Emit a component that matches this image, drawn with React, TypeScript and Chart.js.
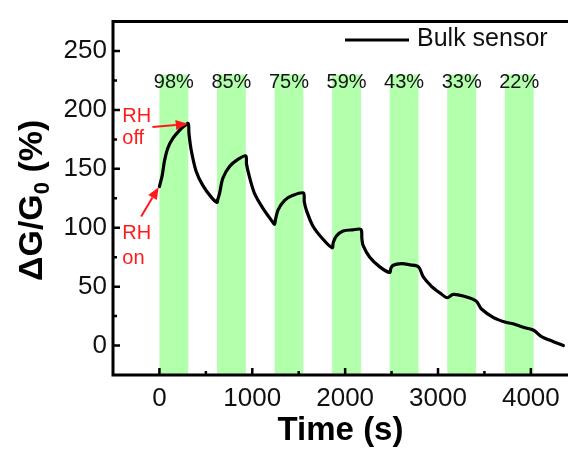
import React, { useEffect, useRef } from "react";
import { Chart, registerables } from "chart.js";

Chart.register(...registerables);

// ---- data ----
const timeS = [
  0, 29, 54, 90, 144, 216, 270, 310,
  318, 342, 395, 467, 558, 620,
  628, 647, 683, 755, 845, 930,
  938, 971, 1025, 1115, 1223, 1240,
  1250, 1277, 1348, 1438, 1550,
  1560, 1582, 1654, 1762, 1860,
  1872, 1906, 1978, 2080, 2170,
  2180, 2193, 2265, 2373, 2480,
  2492, 2517, 2606, 2700, 2790,
  2840, 2930, 3020, 3100,
  3164, 3272, 3410,
  3468, 3594, 3720,
  3808, 3920, 4030,
  4115, 4243, 4350,
];
const deltaG = [
  135, 144, 156.5, 167.5, 175.8, 182.7, 186.5, 188.5,
  180, 166, 148, 136, 126, 121.5,
  124, 129, 142, 152, 158, 161,
  154, 142.7, 129, 116.5, 104.5, 103,
  107, 115, 123.3, 127.5, 129.5,
  122, 115, 101.3, 90.2, 83,
  87.5, 93, 97.2, 98.2, 98.5,
  91, 85, 75, 66.8, 62,
  65.5, 68.2, 69.5, 68.5, 66.8,
  58.5, 50.2, 44.7, 40.6,
  43.4, 42, 37.8,
  31, 24, 20,
  18.5, 15.5, 13,
  7.5, 3.3, 0,
];
const seriesName = "Bulk sensor";

const xTickValues = [0, 1000, 2000, 3000, 4000];
const yTickValues = [0, 50, 100, 150, 200, 250];
const xMinorTicks = [500, 1500, 2500, 3500];
const yMinorTicks = [25, 75, 125, 175, 225];

const humidityStarts = [0, 620, 1240, 1860, 2480, 3100, 3720];
const humidityEnds = [310, 930, 1550, 2170, 2790, 3410, 4030];
const humidityLabels = ["98%", "85%", "75%", "59%", "43%", "33%", "22%"];
const bandTop = 230;
const humidityLabelY = 223;

// annotation anchors in data units: [xStart, yStart, xTip, yTip]
const rhOffArrow = [-75, 185.5, 305, 188.2];
const rhOnArrow = [-197, 109.6, -8, 134.4];
const rhOffText = ["RH", "off"];
const rhOnText = ["RH", "on"];
const rhOffTextPos = [-400, 194.6, 176];
const rhOnTextPos = [-400, 95, 73.7];

const FONT = "Arial, 'Liberation Sans', Helvetica, sans-serif";

function drawArrow(ctx: CanvasRenderingContext2D, x0: number, y0: number, x1: number, y1: number) {
  const ang = Math.atan2(y1 - y0, x1 - x0);
  const hl = 12;
  const hw = 5;
  const bx = x1 - hl * Math.cos(ang);
  const by = y1 - hl * Math.sin(ang);
  ctx.beginPath();
  ctx.moveTo(x0, y0);
  ctx.lineTo(bx, by);
  ctx.stroke();
  ctx.beginPath();
  ctx.moveTo(x1, y1);
  ctx.lineTo(bx + hw * Math.sin(ang), by - hw * Math.cos(ang));
  ctx.lineTo(bx - hw * Math.sin(ang), by + hw * Math.cos(ang));
  ctx.closePath();
  ctx.fill();
}

const decorPlugin = {
  id: "decor",
  beforeDatasetsDraw(chart: any) {
    const { ctx, chartArea: a, scales } = chart;
    const x = scales.x;
    const y = scales.y;
    ctx.save();
    ctx.beginPath();
    ctx.rect(a.left, a.top, a.right - a.left, a.bottom - a.top);
    ctx.clip();
    ctx.fillStyle = "rgb(178,255,172)";
    const yT = y.getPixelForValue(bandTop);
    for (let i = 0; i < humidityStarts.length; i++) {
      const x0 = x.getPixelForValue(humidityStarts[i]);
      const x1 = x.getPixelForValue(humidityEnds[i]);
      ctx.fillRect(x0, yT, x1 - x0, a.bottom - yT);
    }
    ctx.fillStyle = "#141414";
    ctx.font = `20px ${FONT}`;
    ctx.textAlign = "center";
    ctx.textBaseline = "middle";
    for (let i = 0; i < humidityStarts.length; i++) {
      const xc = x.getPixelForValue((humidityStarts[i] + humidityEnds[i]) / 2);
      ctx.fillText(humidityLabels[i], xc, y.getPixelForValue(humidityLabelY));
    }
    ctx.restore();
  },
  afterDatasetsDraw(chart: any) {
    const { ctx, chartArea: a, scales } = chart;
    const x = scales.x;
    const y = scales.y;
    ctx.save();
    // frame (left, top, bottom)
    ctx.strokeStyle = "#000";
    ctx.lineWidth = 3;
    ctx.beginPath();
    ctx.moveTo(a.right + 2, a.top);
    ctx.lineTo(a.left, a.top);
    ctx.lineTo(a.left, a.bottom);
    ctx.lineTo(a.right + 2, a.bottom);
    ctx.stroke();
    // inward ticks
    ctx.lineWidth = 2.5;
    ctx.beginPath();
    xTickValues.forEach((v) => {
      const px = x.getPixelForValue(v);
      ctx.moveTo(px, a.bottom);
      ctx.lineTo(px, a.bottom - 7);
    });
    xMinorTicks.forEach((v) => {
      const px = x.getPixelForValue(v);
      ctx.moveTo(px, a.bottom);
      ctx.lineTo(px, a.bottom - 4);
    });
    yTickValues.forEach((v) => {
      const py = y.getPixelForValue(v);
      ctx.moveTo(a.left, py);
      ctx.lineTo(a.left + 7, py);
    });
    yMinorTicks.forEach((v) => {
      const py = y.getPixelForValue(v);
      ctx.moveTo(a.left, py);
      ctx.lineTo(a.left + 4, py);
    });
    ctx.stroke();

    // legend
    ctx.lineWidth = 3;
    ctx.beginPath();
    ctx.moveTo(345, 40);
    ctx.lineTo(409, 40);
    ctx.stroke();
    ctx.fillStyle = "#111";
    ctx.font = `25px ${FONT}`;
    ctx.textAlign = "left";
    ctx.textBaseline = "middle";
    ctx.fillText(seriesName, 417, 39);

    // RH annotations
    ctx.fillStyle = "#ff1a1a";
    ctx.strokeStyle = "#ff1a1a";
    ctx.lineWidth = 2;
    ctx.font = `20px ${FONT}`;
    ctx.textAlign = "left";
    ctx.textBaseline = "middle";
    const ox = x.getPixelForValue(rhOffTextPos[0]);
    ctx.fillText(rhOffText[0], ox, y.getPixelForValue(rhOffTextPos[1]));
    ctx.fillText(rhOffText[1], ox, y.getPixelForValue(rhOffTextPos[2]));
    const nx = x.getPixelForValue(rhOnTextPos[0]);
    ctx.fillText(rhOnText[0], nx, y.getPixelForValue(rhOnTextPos[1]));
    ctx.fillText(rhOnText[1], nx, y.getPixelForValue(rhOnTextPos[2]));
    drawArrow(
      ctx,
      x.getPixelForValue(rhOffArrow[0]),
      y.getPixelForValue(rhOffArrow[1]),
      x.getPixelForValue(rhOffArrow[2]),
      y.getPixelForValue(rhOffArrow[3])
    );
    drawArrow(
      ctx,
      x.getPixelForValue(rhOnArrow[0]),
      y.getPixelForValue(rhOnArrow[1]),
      x.getPixelForValue(rhOnArrow[2]),
      y.getPixelForValue(rhOnArrow[3])
    );

    // y-axis title with subscript
    ctx.fillStyle = "#000";
    ctx.translate(30, (a.top + a.bottom) / 2 + 2);
    ctx.rotate(-Math.PI / 2);
    const big = `bold 34px ${FONT}`;
    const small = `bold 22px ${FONT}`;
    const p1 = "\u0394G/G";
    const p2 = "0";
    const p3 = " (%)";
    ctx.font = big;
    const w1 = ctx.measureText(p1).width;
    const w3 = ctx.measureText(p3).width;
    ctx.font = small;
    const w2 = ctx.measureText(p2).width;
    let cx = -(w1 + w2 + w3) / 2;
    ctx.textAlign = "left";
    ctx.textBaseline = "alphabetic";
    ctx.font = big;
    ctx.fillText(p1, cx, 12);
    cx += w1;
    ctx.font = small;
    ctx.fillText(p2, cx, 19);
    cx += w2;
    ctx.font = big;
    ctx.fillText(p3, cx, 12);
    ctx.restore();
  },
};

export default function App() {
  const canvasRef = useRef<HTMLCanvasElement | null>(null);

  useEffect(() => {
    const canvas = canvasRef.current;
    if (!canvas) return;
    const chart = new Chart(canvas, {
      type: "line",
      data: {
        datasets: [
          {
            label: seriesName,
            data: timeS.map((t, i) => ({ x: t, y: deltaG[i] })),
            borderColor: "#000",
            borderWidth: 3.2,
            pointRadius: 0,
            tension: 0.3,
            borderJoinStyle: "round",
            borderCapStyle: "round",
            fill: false,
          },
        ],
      },
      options: {
        responsive: false,
        animation: false,
        devicePixelRatio: 1,
        layout: { padding: { top: 13, right: 0, left: 0, bottom: 0 } },
        plugins: {
          legend: { display: false },
          tooltip: { enabled: false },
        },
        scales: {
          x: {
            type: "linear",
            min: -500,
            max: 4400,
            grid: { display: false, drawTicks: false },
            border: { display: false },
            afterBuildTicks: (s: any) => {
              s.ticks = xTickValues.map((v) => ({ value: v }));
            },
            afterFit: (s: any) => {
              s.height = 78;
            },
            ticks: {
              color: "#111",
              font: { size: 26, family: FONT },
              padding: 8,
              maxRotation: 0,
              callback: (v: any) => String(v),
            },
            title: {
              display: true,
              text: "Time (s)",
              color: "#000",
              font: { size: 33, weight: "bold", family: FONT },
              padding: { top: 0, bottom: 2 },
            },
          },
          y: {
            type: "linear",
            min: -25,
            max: 275,
            grid: { display: false, drawTicks: false },
            border: { display: false },
            afterBuildTicks: (s: any) => {
              s.ticks = yTickValues.map((v) => ({ value: v }));
            },
            afterFit: (s: any) => {
              s.width = 113;
            },
            ticks: {
              color: "#111",
              font: { size: 26, family: FONT },
              padding: 6,
              callback: (v: any) => String(v),
            },
          },
        },
      },
      plugins: [decorPlugin],
    } as any);
    return () => chart.destroy();
  }, []);

  return (
    <div style={{ position: "fixed", left: 0, top: 0, width: 568, height: 453, background: "#fff" }}>
      <canvas ref={canvasRef} width={568} height={453} style={{ width: 568, height: 453 }} />
    </div>
  );
}
